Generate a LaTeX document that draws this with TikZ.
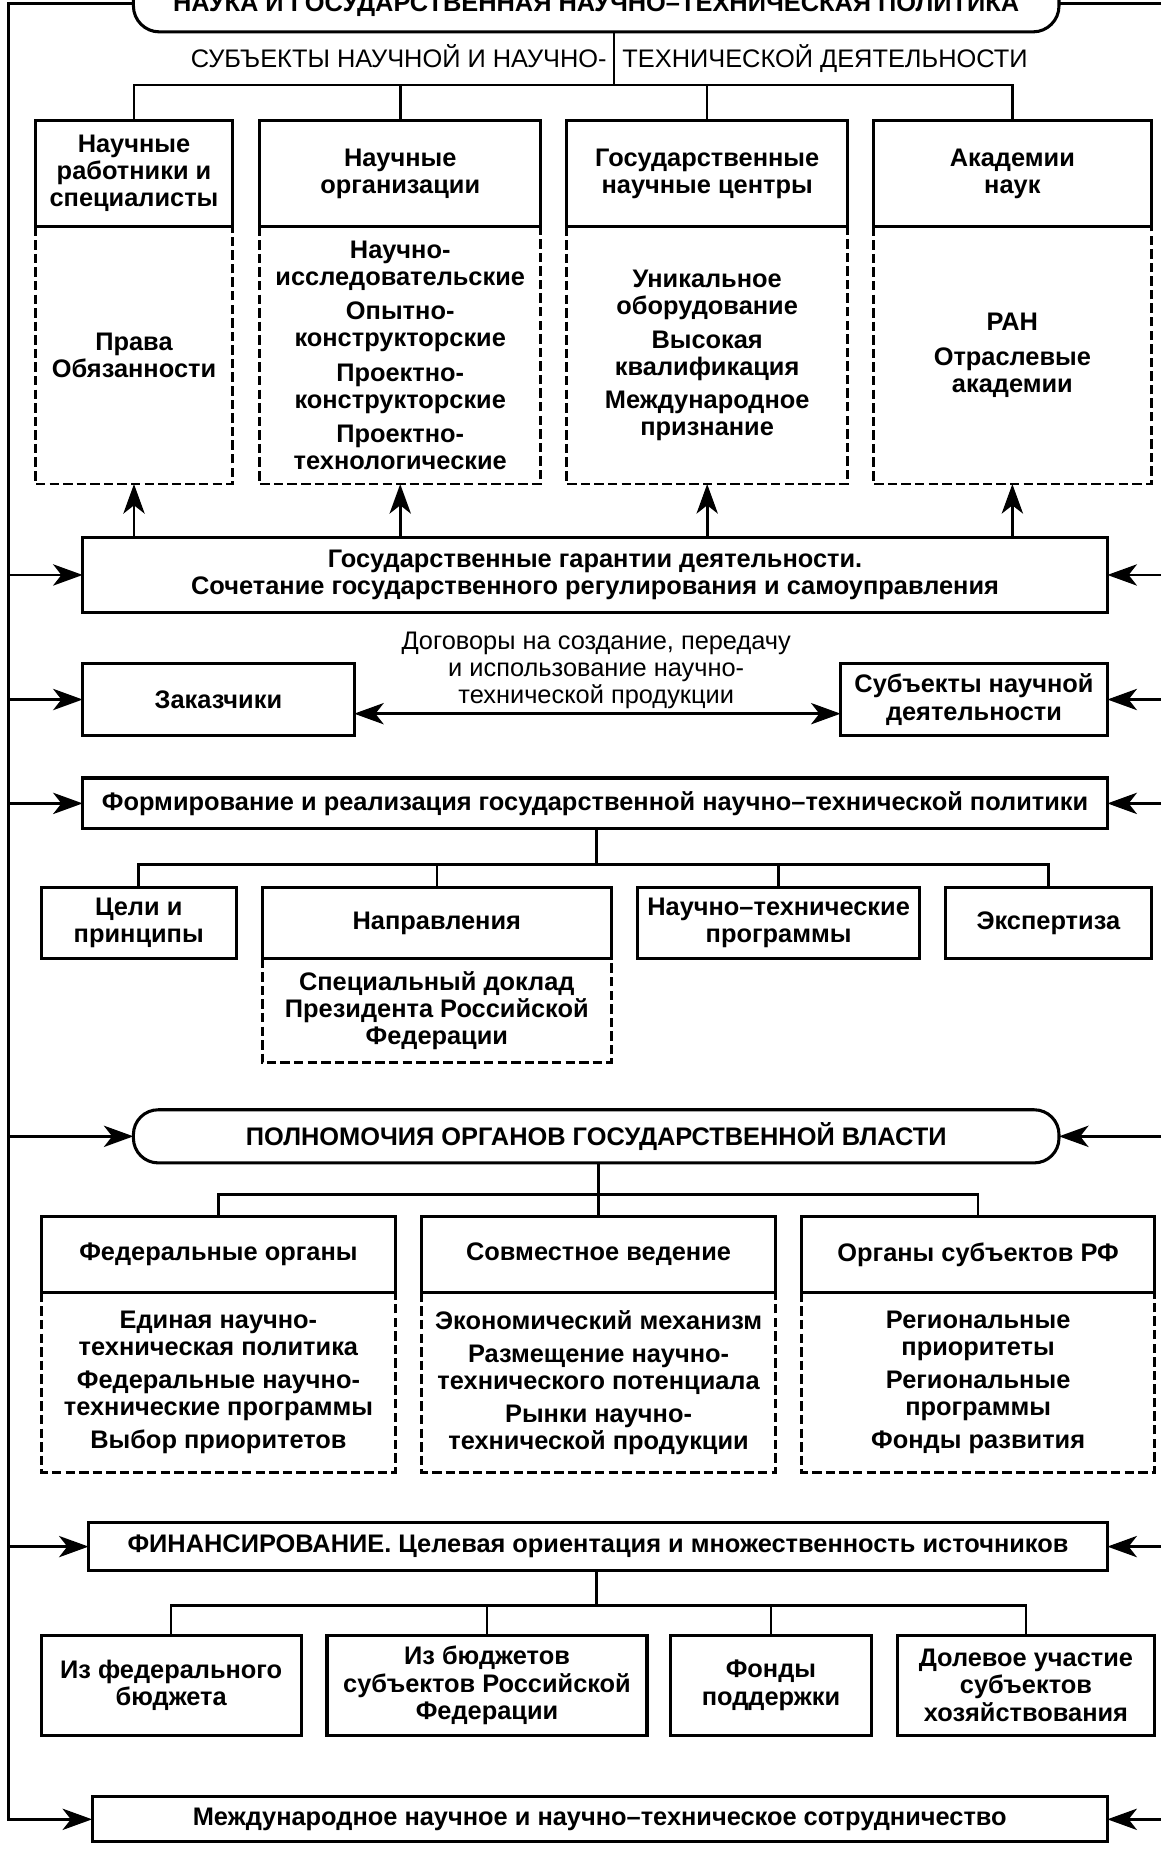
\documentclass[tikz,border=0pt]{standalone}
\usepackage{fontspec}
\setmainfont{Liberation Sans}
\usetikzlibrary{arrows.meta}
\newcommand\fB{\fontsize{21.5}{23}\selectfont\bfseries}
\newcommand\fR{\fontsize{21.5}{23}\selectfont\mdseries}
\begin{document}
\begin{tikzpicture}[x=1pt,y=-1pt,
  box/.style={draw, line width=2.6pt, inner sep=0pt, outer sep=0pt, align=center, font=\fB},
  txt/.style={inner sep=0pt, outer sep=0pt, align=center, font=\fB},
  dsh/.style={line width=2.4pt, dash pattern=on 8pt off 3.5pt},
  con/.style={line width=2.2pt},
  arr/.style={line width=2.4pt, -{Stealth[length=25pt,width=18pt,inset=7pt]}},
  darr/.style={line width=2.4pt, {Stealth[length=25pt,width=18pt,inset=7pt]}-{Stealth[length=25pt,width=18pt,inset=7pt]}},
]
\useasboundingbox (0,0) rectangle (983,1567);

% title
\node[box, rounded corners=22pt, minimum width=784pt, anchor=base, text height=15pt, text depth=0pt, inner ysep=17pt] (title) at (505,10) {НАУКА И ГОСУДАРСТВЕННАЯ НАУЧНО–ТЕХНИЧЕСКАЯ ПОЛИТИКА};
\node[font=\fR, anchor=base east, inner sep=0pt] (sub1) at (514,57) {СУБЪЕКТЫ НАУЧНОЙ И НАУЧНО-};
\node[font=\fR, anchor=base west, inner sep=0pt] (sub2) at (527,57) {ТЕХНИЧЕСКОЙ ДЕЯТЕЛЬНОСТИ};

% subjects
\node[box, minimum width=167pt, minimum height=90pt] (h1) at (113.5,147) {Научные\\работники и\\специалисты};
\node[box, minimum width=238pt, minimum height=90pt] (h2) at (339,147) {Научные\\организации};
\node[box, minimum width=238pt, minimum height=90pt] (h3) at (599,147) {Государственные\\научные центры};
\node[box, minimum width=235pt, minimum height=90pt] (h4) at (857.5,147) {Академии\\наук};
\node[txt, minimum width=167pt, minimum height=218pt] (d1) at (113.5,301) {Права\\Обязанности};
\node[txt, minimum width=238pt, minimum height=218pt] (d2) at (339,301) {Научно-\\исследовательские\\[6pt]Опытно-\\конструкторские\\[6pt]Проектно-\\конструкторские\\[6pt]Проектно-\\технологические};
\node[txt, minimum width=238pt, minimum height=218pt] (d3) at (599,301) {Уникальное\\оборудование\\[6pt]Высокая\\квалификация\\[5pt]Международное\\признание};
\node[txt, minimum width=235pt, minimum height=218pt] (d4) at (857.5,301) {РАН\\[6pt]Отраслевые\\академии};
\foreach \n in {1,2,3,4}{\draw[dsh] (h\n.south west) -- (d\n.south west) -- (d\n.south east) -- (h\n.south east);}

\coordinate (bus1) at (520,72);
\draw[con] (title.south -| bus1) -- (bus1);
\draw[con] (h1.north) |- (bus1) -| (h4.north);
\draw[con] (h2.north) -- (h2.north |- bus1);
\draw[con] (h3.north) -- (h3.north |- bus1);

% guarantees
\node[box, minimum width=868pt, minimum height=64pt] (g) at (504,487) {Государственные гарантии деятельности.\\Сочетание государственного регулирования и самоуправления};
\foreach \n in {1,2,3,4}{\draw[arr] (g.north -| d\n.south) -- (d\n.south);}

% contracts
\node[txt, font=\fR] (dog) at (505,568) {Договоры на создание, передачу\\и использование научно-\\технической продукции};
\node[box, minimum width=230pt, minimum height=61pt] (z) at (185,592.5) {Заказчики};
\node[box, minimum width=226pt, minimum height=61pt] (s) at (825,592.5) {Субъекты научной\\деятельности};
\draw[darr] ([yshift=-12pt]z.east) -- ([yshift=-12pt]s.west);

% policy
\node[box, minimum width=868pt, minimum height=43pt] (f) at (504,680.5) {Формирование и реализация государственной научно–технической политики};
\node[box, minimum width=165pt, minimum height=60pt] (c1) at (117.5,782) {Цели и\\принципы};
\node[box, minimum width=296pt, minimum height=60pt] (c2) at (370,782) {Направления};
\node[box, minimum width=239pt, minimum height=60pt] (c3) at (659.5,782) {Научно–технические\\программы};
\node[box, minimum width=174pt, minimum height=60pt] (c4) at (888,782) {Экспертиза};
\node[txt, minimum width=296pt, minimum height=88pt] (dc2) at (370,856) {Специальный доклад\\Президента Российской\\Федерации};
\draw[dsh] (c2.south west) -- (dc2.south west) -- (dc2.south east) -- (c2.south east);
\coordinate (bus2) at (505,732);
\draw[con] (f.south -| bus2) -- (bus2);
\draw[con] (c1.north) |- (bus2) -| (c4.north);
\draw[con] (c2.north) -- (c2.north |- bus2);
\draw[con] (c3.north) -- (c3.north |- bus2);

% powers
\node[box, rounded corners=21pt, minimum width=784pt, minimum height=45pt] (p) at (505,962.5) {ПОЛНОМОЧИЯ ОРГАНОВ ГОСУДАРСТВЕННОЙ ВЛАСТИ};
\node[box, minimum width=300pt, minimum height=65pt] (o1) at (185,1062.5) {Федеральные органы};
\node[box, minimum width=300pt, minimum height=65pt] (o2) at (507,1062.5) {Совместное ведение};
\node[box, minimum width=299pt, minimum height=65pt] (o3) at (828.5,1062.5) {Органы субъектов РФ};
\node[txt, minimum width=300pt, minimum height=152pt] (do1) at (185,1171) {Единая научно-\\техническая политика\\[5pt]Федеральные научно-\\технические программы\\[5pt]Выбор приоритетов};
\node[txt, minimum width=300pt, minimum height=152pt] (do2) at (507,1171) {Экономический механизм\\[5pt]Размещение научно-\\технического потенциала\\[5pt]Рынки научно-\\технической продукции};
\node[txt, minimum width=299pt, minimum height=152pt] (do3) at (828.5,1171) {Региональные\\приоритеты\\[5pt]Региональные\\программы\\[5pt]Фонды развития};
\foreach \n in {1,2,3}{\draw[dsh] (o\n.south west) -- (do\n.south west) -- (do\n.south east) -- (o\n.south east);}
\coordinate (bus3) at (507,1012);
\draw[con] (p.south -| bus3) -- (bus3);
\draw[con] (o1.north) |- (bus3) -| (o3.north);
\draw[con] (o2.north) -- (bus3);

% financing
\node[box, minimum width=863pt, minimum height=41pt] (fin) at (506.5,1310) {ФИНАНСИРОВАНИЕ. Целевая ориентация и множественность источников};
\node[box, minimum width=220pt, minimum height=85pt] (s1) at (145,1427.5) {Из федерального\\бюджета};
\node[box, minimum width=271pt, minimum height=85pt] (s2) at (412.5,1427.5) {Из бюджетов\\субъектов Российской\\Федерации};
\node[box, minimum width=170pt, minimum height=85pt] (s3) at (653,1427.5) {Фонды\\поддержки};
\node[box, minimum width=218pt, minimum height=85pt] (s4) at (869,1427.5) {Долевое участие\\субъектов\\хозяйствования};
\coordinate (bus4) at (505,1360);
\draw[con] (fin.south -| bus4) -- (bus4);
\draw[con] (s1.north) |- (bus4) -| (s4.north);
\draw[con] (s2.north) -- (s2.north |- bus4);
\draw[con] (s3.north) -- (s3.north |- bus4);

% international
\node[box, minimum width=860pt, minimum height=38pt] (m) at (508,1541) {Международное научное и научно–техническое сотрудничество};

% side lines
\coordinate (L0) at (7,3);
\coordinate (R0) at (990,3);
\draw[arr] (title.west |- L0) -- (L0) |- (m.west);
\foreach \n in {g,z,f,p,fin}{\draw[arr] (L0 |- \n.west) -- (\n.west);}
\draw[con] (title.east |- R0) -- (R0);
\foreach \n in {g,s,f,p,fin,m}{\draw[arr] (R0 |- \n.east) -- (\n.east);}
\end{tikzpicture}
\end{document}
